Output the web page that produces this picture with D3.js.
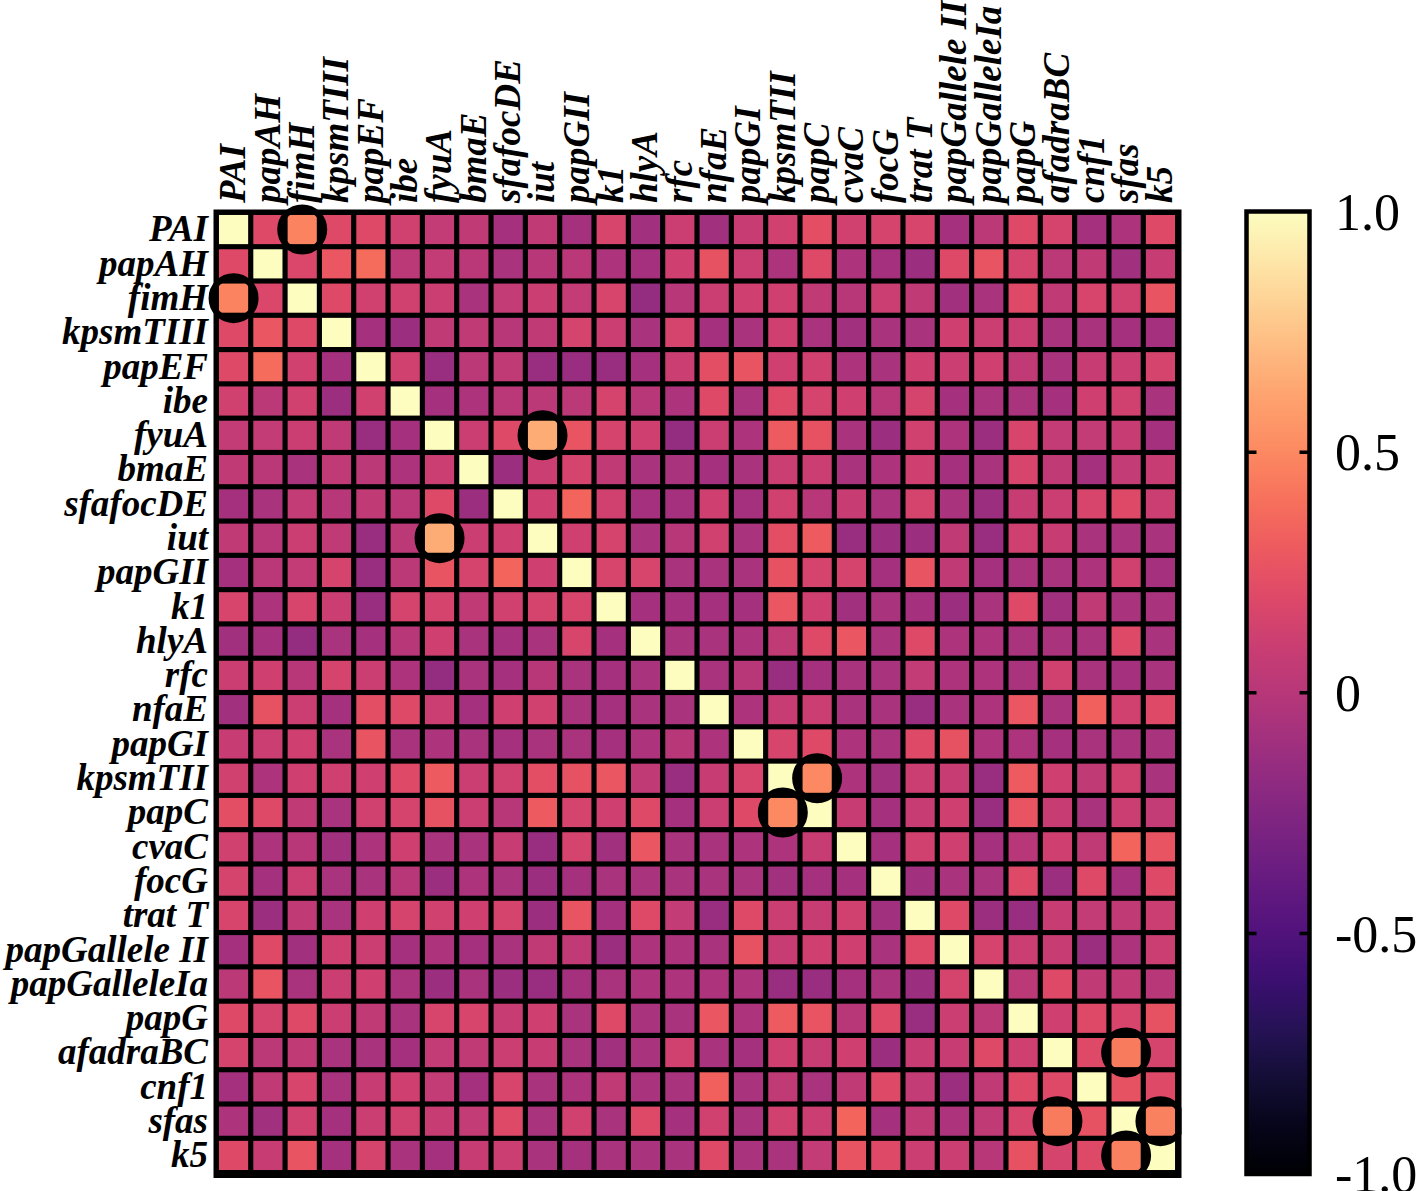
<!DOCTYPE html>
<html>
<head>
<meta charset="utf-8">
<script src="https://cdn.jsdelivr.net/npm/d3@7"></script>
<style>
  body { margin: 0; background: #fff; }
</style>
</head>
<body>
<div id="chart"></div>
<script>

// gene names, same order on both axes
var genes = ["PAI", "papAH", "fimH", "kpsmTIII", "papEF", "ibe", "fyuA", "bmaE", "sfafocDE", "iut",
  "papGII", "k1", "hlyA", "rfc", "nfaE", "papGI", "kpsmTII", "papC", "cvaC", "focG",
  "trat T", "papGallele II", "papGalleleIa", "papG", "afadraBC", "cnf1", "sfas", "k5"];

// lower triangle of the correlation matrix (row i holds columns 0..i-1), diagonal is 1
var lowerRows = [
  [],
  [0.2],
  [0.48, 0.18],
  [0.2, 0.28, 0.2],
  [0.2, 0.38, 0.13, -0.08],
  [0.13, 0.03, 0.13, -0.12, 0.13],
  [0.07, 0.07, 0.1, 0.05, -0.14, -0.08],
  [0.05, 0.02, -0.06, 0.05, 0.03, -0.04, 0.1],
  [-0.08, -0.06, 0.07, 0.0, 0.05, 0.02, 0.2, -0.12],
  [0.05, 0.0, 0.1, 0.05, -0.14, 0.03, 0.65, 0.1, 0.12],
  [-0.08, 0.02, 0.07, 0.15, -0.14, 0.03, 0.27, 0.15, 0.35, 0.12],
  [0.17, -0.04, 0.17, 0.1, -0.14, 0.15, 0.15, 0.05, 0.13, 0.15, 0.17],
  [-0.1, -0.08, -0.16, -0.06, -0.08, 0.0, 0.12, -0.06, -0.08, -0.06, 0.17, -0.08],
  [0.1, 0.12, 0.0, 0.15, 0.1, -0.04, -0.16, -0.06, -0.08, 0.0, -0.06, -0.08, -0.06],
  [-0.1, 0.25, 0.1, -0.08, 0.23, 0.2, 0.1, -0.08, 0.12, 0.13, -0.06, -0.08, -0.06, -0.06],
  [0.08, 0.1, 0.12, -0.06, 0.27, -0.06, -0.04, -0.06, -0.08, -0.06, -0.06, -0.08, -0.04, 0.0, -0.04],
  [0.13, -0.04, 0.12, 0.12, 0.12, 0.2, 0.3, 0.1, 0.13, 0.23, 0.25, 0.28, 0.05, -0.14, 0.08, 0.17],
  [0.23, 0.2, 0.05, -0.06, 0.13, 0.15, 0.25, 0.1, 0.0, 0.3, 0.15, 0.12, 0.2, -0.08, 0.1, 0.2, 0.5],
  [0.13, -0.04, 0.0, -0.1, -0.04, 0.12, -0.06, -0.06, 0.08, -0.14, 0.15, -0.1, 0.28, -0.06, -0.06, -0.04, -0.04, 0.08],
  [0.15, -0.08, 0.1, -0.06, -0.06, 0.0, -0.12, -0.04, -0.06, -0.12, -0.08, -0.06, -0.06, -0.06, -0.06, -0.06, -0.1, -0.08, -0.08],
  [0.17, -0.12, 0.05, -0.06, 0.12, 0.15, 0.13, 0.12, 0.15, -0.12, 0.27, -0.08, 0.2, 0.07, -0.14, 0.2, 0.1, 0.08, 0.13, -0.1],
  [-0.08, 0.2, -0.1, 0.12, 0.1, -0.08, -0.04, -0.08, -0.06, 0.05, 0.05, -0.12, -0.04, -0.04, -0.06, 0.25, 0.08, 0.12, 0.12, -0.06, 0.2],
  [0.03, 0.27, -0.06, 0.1, 0.12, -0.06, -0.12, -0.06, -0.12, -0.14, -0.08, -0.06, -0.04, -0.04, -0.04, -0.04, -0.14, -0.14, -0.08, -0.06, -0.12, 0.15],
  [0.2, 0.15, 0.2, 0.1, 0.05, -0.06, 0.17, 0.17, 0.08, 0.12, -0.06, 0.2, -0.06, -0.06, 0.28, -0.04, 0.3, 0.27, 0.0, 0.2, -0.14, 0.1, 0.03],
  [0.15, 0.03, 0.05, -0.06, -0.06, -0.08, 0.07, 0.05, 0.1, 0.08, -0.06, -0.1, -0.06, 0.13, -0.06, -0.08, 0.12, 0.08, 0.12, -0.12, 0.08, 0.08, 0.2, 0.12],
  [-0.08, 0.05, 0.17, -0.06, 0.08, 0.12, 0.07, -0.08, 0.17, -0.06, -0.04, 0.05, -0.06, -0.06, 0.33, -0.06, 0.05, -0.06, 0.05, 0.2, 0.07, -0.12, 0.05, 0.2, 0.2],
  [-0.04, -0.1, 0.13, -0.08, 0.1, 0.13, 0.08, 0.07, 0.2, -0.06, 0.13, -0.06, 0.2, -0.08, 0.13, -0.06, 0.13, 0.1, 0.35, -0.08, 0.05, -0.04, 0.05, 0.17, 0.45, 0.25],
  [0.2, 0.08, 0.27, -0.08, 0.15, -0.06, -0.08, 0.08, 0.1, -0.06, -0.08, -0.06, -0.06, -0.06, 0.2, -0.06, -0.06, 0.07, 0.27, 0.2, 0.1, 0.1, 0.0, 0.25, 0.15, 0.2, 0.47]
];

// pairs marked with a black ring (row, col)
var ringed = [[0, 2], [2, 0], [6, 9], [9, 6], [16, 17], [17, 16], [24, 26], [26, 24], [26, 27], [27, 26]];

var barTicks = [1.0, 0.5, 0, -0.5, -1.0];


CorrHeatmap = function(_parentElement, _names, _lower, _rings){
    this.parentElement = _parentElement;
    this.names = _names;
    this.lower = _lower;
    this.rings = _rings;

    this.initVis();
}

CorrHeatmap.prototype.initVis = function() {
    var vis = this;

    vis.width = 1418;
    vis.height = 1191;

    // full symmetric matrix from the lower triangle
    vis.cells = [];
    vis.names.forEach(function(rowName, i) {
      vis.names.forEach(function(colName, j) {
        var v;
        if (i == j) v = 1;
        else if (j < i) v = vis.lower[i][j];
        else v = vis.lower[j][i];
        vis.cells.push({row: i, col: j, value: v});
      });
    });

    vis.svg = d3.select('#' + vis.parentElement)
      .append("svg")
      .attr("width", vis.width)
      .attr("height", vis.height)
      .style("font-family", "'Liberation Serif', 'Times New Roman', serif");

    vis.color = d3.scaleSequential(d3.interpolateMagma).domain([-1, 1]);

    vis.x = d3.scaleBand()
      .domain(d3.range(vis.names.length))
      .range([216.4, 1177.6])
      .paddingInner(0.15)
      .paddingOuter(0.075);

    vis.y = d3.scaleBand()
      .domain(d3.range(vis.names.length))
      .range([212.4, 1172.6])
      .paddingInner(0.15)
      .paddingOuter(0.075);

    // black frame, the gaps between cells show it
    vis.svg.append("rect")
      .attr("x", 213.5)
      .attr("y", 209.5)
      .attr("width", 1181.5 - 213.5)
      .attr("height", 1178 - 209.5)
      .attr("fill", "#000");

    vis.svg.append("g")
      .selectAll("rect")
      .data(vis.cells)
      .enter()
      .append("rect")
      .attr("x", function(d) { return vis.x(d.col); })
      .attr("y", function(d) { return vis.y(d.row); })
      .attr("width", vis.x.bandwidth())
      .attr("height", vis.y.bandwidth())
      .attr("fill", function(d) { return vis.color(d.value); });

    // rings, cut at the right and bottom edge of the frame
    vis.svg.append("clipPath")
      .attr("id", "ringClip")
      .append("rect")
      .attr("x", 0).attr("y", 0)
      .attr("width", 1181.5).attr("height", 1178);

    vis.svg.append("g")
      .attr("clip-path", "url(#ringClip)")
      .selectAll("circle")
      .data(vis.rings)
      .enter()
      .append("circle")
      .attr("cx", function(d) { return vis.x(d[1]) + vis.x.bandwidth() / 2; })
      .attr("cy", function(d) { return vis.y(d[0]) + vis.y.bandwidth() / 2; })
      .attr("r", 22)
      .attr("fill", "none")
      .attr("stroke", "#000")
      .attr("stroke-width", 6);

    // row labels
    vis.svg.append("g")
      .selectAll("text")
      .data(vis.names)
      .enter()
      .append("text")
      .attr("x", 208)
      .attr("y", function(d, i) { return vis.y(i) + vis.y.bandwidth() / 2; })
      .attr("dy", "0.32em")
      .attr("text-anchor", "end")
      .style("font-size", "37px")
      .style("font-weight", "bold")
      .style("font-style", "italic")
      .text(function(d) { return d; });

    // column labels, rotated
    vis.svg.append("g")
      .selectAll("text")
      .data(vis.names)
      .enter()
      .append("text")
      .attr("transform", function(d, i) {
        return "translate(" + (vis.x(i) + vis.x.bandwidth() / 2) + ",203) rotate(-90)";
      })
      .attr("dy", "0.32em")
      .attr("text-anchor", "start")
      .style("font-size", "37px")
      .style("font-weight", "bold")
      .style("font-style", "italic")
      .text(function(d) { return d; });

    vis.drawColorbar();
};

CorrHeatmap.prototype.drawColorbar = function() {
    var vis = this;

    var barX = 1246.5, barW = 63;
    var cy = d3.scaleLinear().domain([-1, 1]).range([1174, 211.5]);

    var grad = vis.svg.append("defs")
      .append("linearGradient")
      .attr("id", "barGrad")
      .attr("x1", 0).attr("y1", 1)
      .attr("x2", 0).attr("y2", 0);

    d3.range(0, 1.0001, 0.05).forEach(function(t) {
      grad.append("stop")
        .attr("offset", t)
        .attr("stop-color", d3.interpolateMagma(t));
    });

    vis.svg.append("rect")
      .attr("x", barX)
      .attr("y", cy(1))
      .attr("width", barW)
      .attr("height", cy(-1) - cy(1))
      .attr("fill", "url(#barGrad)")
      .attr("stroke", "#000")
      .attr("stroke-width", 4.5);

    var inner = barTicks.filter(function(t) { return Math.abs(t) < 1; });

    vis.svg.append("g")
      .selectAll("path")
      .data(inner)
      .enter()
      .append("path")
      .attr("d", function(t) {
        var yy = cy(t);
        return "M" + barX + "," + yy + "h10" + "M" + (barX + barW) + "," + yy + "h-10";
      })
      .attr("stroke", "#000")
      .attr("stroke-width", 3.5);

    vis.svg.append("g")
      .selectAll("text")
      .data(barTicks)
      .enter()
      .append("text")
      .attr("x", 1335)
      .attr("y", function(t) { return cy(t); })
      .attr("dy", "0.35em")
      .style("font-size", "52px")
      .text(function(t) { return t == 0 ? "0" : t.toFixed(1); });
};

new CorrHeatmap("chart", genes, lowerRows, ringed);

</script>
</body>
</html>
